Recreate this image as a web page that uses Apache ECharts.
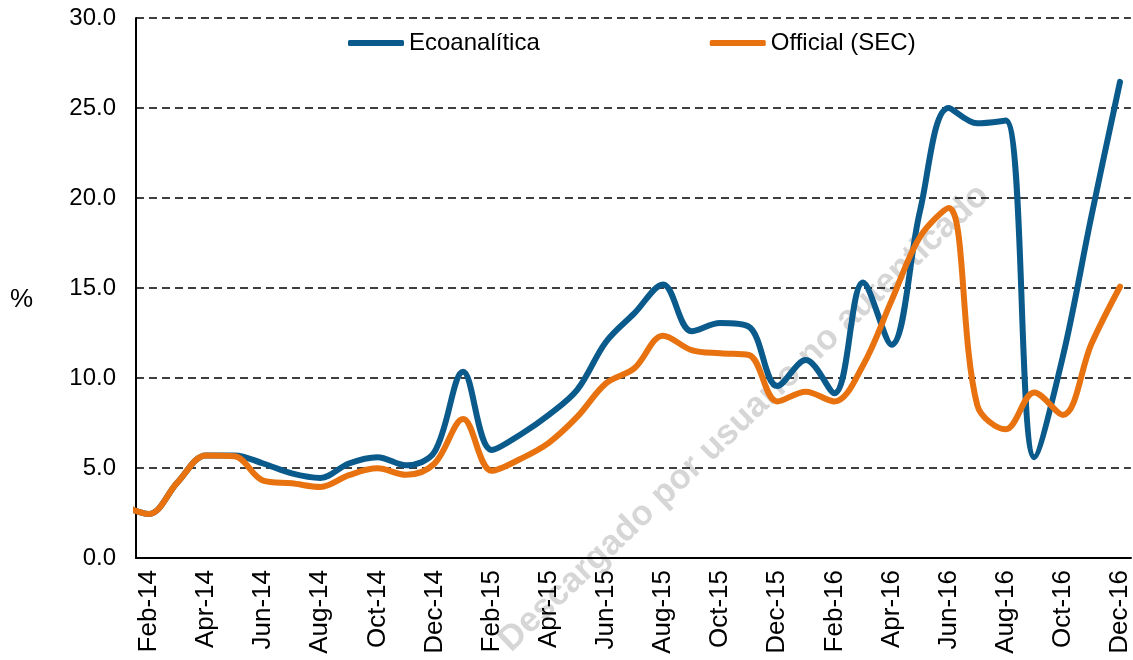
<!DOCTYPE html>
<html>
<head>
<meta charset="utf-8">
<script src="https://cdn.jsdelivr.net/npm/echarts@6/dist/echarts.min.js"></script>
<style>
  html, body { margin: 0; padding: 0; background: #fff; }
  #chart { width: 1133px; height: 660px; }
</style>
</head>
<body>
<div id="chart"></div>
<script>
// months, Jan-14 sits just left of the plot area (clipped), as in the source chart
const months = ['Jan-14', 'Feb-14', 'Mar-14', 'Apr-14', 'May-14', 'Jun-14', 'Jul-14', 'Aug-14', 'Sep-14', 'Oct-14', 'Nov-14', 'Dec-14',
  'Jan-15', 'Feb-15', 'Mar-15', 'Apr-15', 'May-15', 'Jun-15', 'Jul-15', 'Aug-15', 'Sep-15', 'Oct-15', 'Nov-15', 'Dec-15',
  'Jan-16', 'Feb-16', 'Mar-16', 'Apr-16', 'May-16', 'Jun-16', 'Jul-16', 'Aug-16', 'Sep-16', 'Oct-16', 'Nov-16', 'Dec-16']

const ecoanalitica = [3.0, 2.45, 4.2, 5.7, 5.7, 5.25, 4.7, 4.45, 5.25, 5.6, 5.15, 5.9,
  10.35, 6.0, 6.85, 7.95, 9.35, 12.0, 13.6, 15.2, 12.6, 13.05, 12.85, 9.55,
  11.0, 9.15, 15.3, 11.85, 19.3, 25.0, 24.15, 24.3, 5.6, 11.2, 19.0, 26.45]

const official = [3.0, 2.45, 4.2, 5.7, 5.65, 4.3, 4.15, 3.95, 4.6, 4.98, 4.62, 5.25,
  7.72, 4.85, 5.5, 6.4, 7.85, 9.7, 10.55, 12.35, 11.55, 11.37, 11.28, 8.7,
  9.24, 8.7, 10.7, 14.3, 17.85, 19.45, 8.5, 7.15, 9.2, 7.95, 11.9, 15.07]

// labelled months: every second one starting at Feb-14
const labelIdx = []
for (let i = 1; i < months.length; i += 2) labelIdx.push(i)

function pairs(arr) {
  return arr.map((v, i) => [i, v])
}

const font = 'Liberation Sans'
let myChart = echarts.init(document.getElementById('chart'))
let option = {
  animation: false,
  textStyle: { fontFamily: font },
  grid: { left: 136, right: 0, top: 18, bottom: 102 },
  legend: {
    left: 343,
    top: 26,
    itemWidth: 56,
    itemHeight: 6,
    itemGap: 170,
    icon: 'roundRect',
    textStyle: { fontSize: 24, color: '#000', fontFamily: font },
    data: ['Ecoanalítica', 'Official (SEC)']
  },
  graphic: [
    {
      type: 'text',
      left: 10,
      top: 287,
      style: { text: '%', font: '26px ' + font, fill: '#000' }
    },
    {
      type: 'text',
      x: 744,
      y: 418,
      rotation: 0.76,
      z: 0,
      style: {
        text: 'Descargado por usuario no autenticado',
        font: 'bold 35px ' + font,
        fill: '#d6d6d6',
        align: 'center',
        verticalAlign: 'middle'
      }
    }
  ],
  xAxis: [
    {
      type: 'value',
      min: 0.546,
      max: 35.38,
      splitLine: { show: false },
      axisTick: { show: false },
      axisLine: { show: true, onZero: false, lineStyle: { color: '#000', width: 2 } },
      axisLabel: {
        customValues: labelIdx,
        rotate: 90,
        margin: 12,
        fontSize: 26,
        color: '#000',
        formatter: function (v) {
          return months[Math.round(v)] || ''
        }
      }
    },
    {
      type: 'value',
      position: 'top',
      min: 0.546,
      max: 35.38,
      splitLine: { show: false },
      axisTick: { show: false },
      axisLabel: { show: false },
      axisLine: { show: true, lineStyle: { color: '#000', width: 1.5 } }
    }
  ],
  yAxis: {
    type: 'value',
    min: 0,
    max: 30,
    interval: 5,
    axisTick: { show: false },
    axisLine: { show: true, lineStyle: { color: '#000', width: 2 } },
    axisLabel: {
      margin: 20,
      fontSize: 24,
      color: '#000',
      formatter: function (v) {
        return v.toFixed(1)
      }
    },
    splitLine: {
      show: true,
      lineStyle: { color: '#000', width: 1.5, type: [8, 5] }
    }
  },
  series: [
    {
      name: 'Ecoanalítica',
      type: 'line',
      data: pairs(ecoanalitica),
      smooth: 0.35,
      showSymbol: false,
      symbol: 'none',
      color: '#0B5A8C',
      lineStyle: { width: 6, cap: 'round', join: 'round' },
      z: 3
    },
    {
      name: 'Official (SEC)',
      type: 'line',
      data: pairs(official),
      smooth: 0.35,
      showSymbol: false,
      symbol: 'none',
      color: '#E8720F',
      lineStyle: { width: 6, cap: 'round', join: 'round' },
      z: 4
    }
  ]
}
myChart.setOption(option)
</script>
</body>
</html>
